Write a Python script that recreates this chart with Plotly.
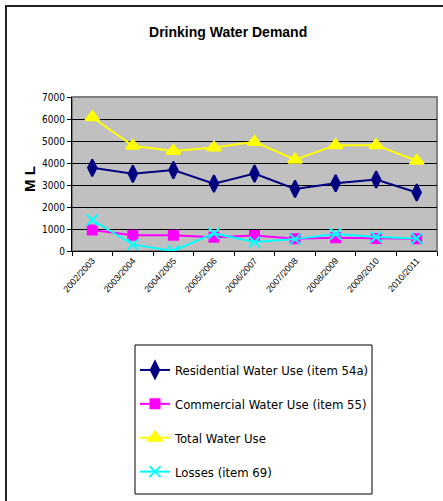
import plotly.graph_objects as go

# financial years on the x axis
years = ["2002/2003", "2003/2004", "2004/2005", "2005/2006", "2006/2007",
         "2007/2008", "2008/2009", "2009/2010", "2010/2011"]

# megalitres per year
residential = [3780, 3510, 3680, 3060, 3520, 2820, 3080, 3250, 2660]
commercial = [950, 720, 720, 620, 700, 560, 600, 570, 560]
total = [6080, 4780, 4550, 4700, 4960, 4150, 4810, 4810, 4100]
losses = [1410, 290, 0, 800, 410, 540, 770, 640, 570]

narrow = "Liberation Sans Narrow, DejaVu Sans Condensed, Liberation Sans, Arial"

# pixel -> paper helpers (plot area is 72..437 x, 97..251 y)
def px(x):
    return (x - 72) / 365

def py(y):
    return (251 - y) / 154

fig = go.Figure()

series = [
    ("Residential Water Use (item 54a)", residential, "#000080", "diamond-tall", 12),
    ("Commercial Water Use (item 55)", commercial, "#FF00FF", "square", 9),
    ("Total Water Use", total, "#FFFF00", "triangle-up", 12),
    ("Losses (item 69)", losses, "#00FFFF", "x-thin", 11),
]
for i, (name, vals, col, sym, sz) in enumerate(series):
    fig.add_trace(go.Scatter(
        x=years, y=vals, name=name, mode="lines+markers",
        legendgroup=str(i),
        line=dict(color=col, width=2),
        marker=dict(symbol=sym, size=sz, color=col,
                    line=dict(color=col, width=2)),
    ))

# frame around whole chart area (left/top visible, rest runs off page)
fig.add_shape(type="rect", xref="paper", yref="paper",
              x0=px(6), x1=px(446), y0=py(506), y1=py(6),
              line=dict(color="#222222", width=2), layer="below")
# gray plot border
fig.add_shape(type="rect", xref="paper", yref="paper", x0=0, x1=1, y0=0, y1=1,
              line=dict(color="#808080", width=2), layer="below")
# legend box
fig.add_shape(type="rect", xref="paper", yref="paper",
              x0=px(135), x1=px(372), y0=py(494), y1=py(345),
              line=dict(color="black", width=1), fillcolor="white", layer="below")

fig.add_annotation(text="<b>M L</b>", xref="paper", yref="paper",
                   x=px(29), y=py(179), xanchor="center", yanchor="middle",
                   textangle=-90, showarrow=False,
                   font=dict(family="Liberation Sans, Arial", size=15, color="black"))

fig.update_layout(
    width=443, height=501,
    margin=dict(l=72, r=6, t=97, b=250, autoexpand=False),
    paper_bgcolor="white", plot_bgcolor="#C0C0C0",
    font=dict(family=narrow, size=11, color="black"),
    title=dict(text="<b>Drinking Water Demand</b>", x=0.515, xref="container",
               y=0.935, yanchor="middle",
               font=dict(family="Liberation Sans, Arial", size=14, color="black")),
    showlegend=True,
    legend=dict(x=px(135), y=py(355), xanchor="left", yanchor="top",
                borderwidth=0, bgcolor="rgba(0,0,0,0)",
                traceorder="grouped", tracegroupgap=14,
                font=dict(family=narrow, size=13, color="black")),
)

fig.update_xaxes(
    type="category", range=[-0.5, 8.5], tickson="boundaries",
    ticks="outside", ticklen=4, tickcolor="black", automargin=False,
    tickangle=-48, tickfont=dict(size=9, family="Liberation Sans, Arial"),
    showline=True, linecolor="black", linewidth=1, showgrid=False,
)
fig.update_yaxes(
    range=[0, 7000], dtick=1000, ticks="outside", ticklen=4, tickcolor="black",
    showline=True, linecolor="black", linewidth=1, automargin=False,
    showgrid=True, gridcolor="black", gridwidth=1,
    tickfont=dict(size=10),
)

# drop the browser's default body margin so the figure sits at 0,0
fig.write_html("out.html", config={"displayModeBar": False},
               post_script="document.body.style.margin='0';")
